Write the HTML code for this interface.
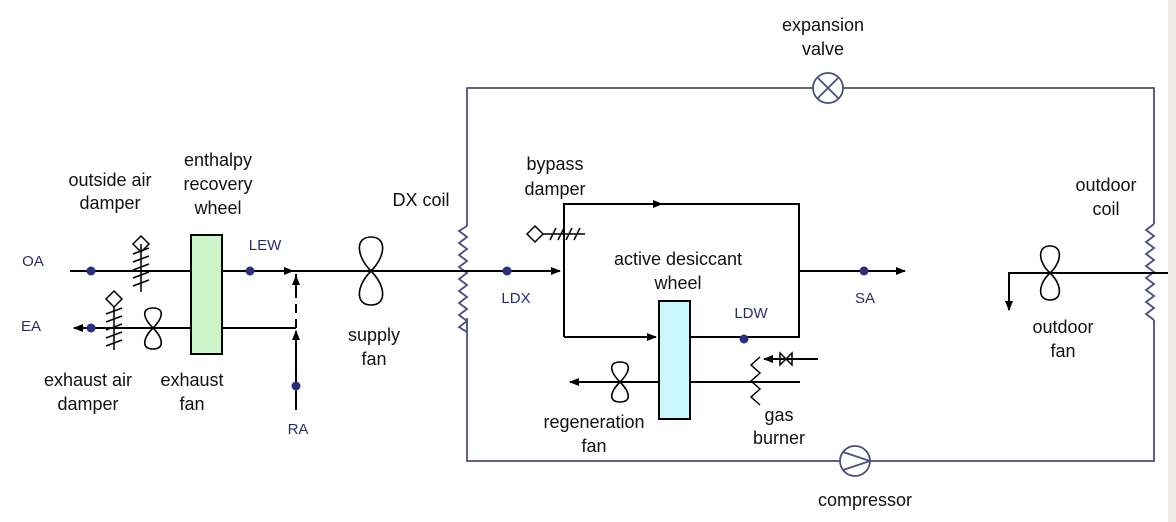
<!DOCTYPE html>
<html><head><meta charset="utf-8"><style>
html,body{margin:0;padding:0;background:#fff;}
svg{display:block;}
text{font-family:"Liberation Sans",Arial,sans-serif;font-size:18px;fill:#111;text-anchor:middle;}
.s{font-size:15px;fill:#2a2d6a;}
</style></head><body>
<svg width="1176" height="522" viewBox="0 0 1176 522" xmlns="http://www.w3.org/2000/svg">
<defs>
<marker id="ah" markerWidth="10" markerHeight="8" refX="9" refY="4" orient="auto" markerUnits="userSpaceOnUse"><path d="M0,0 L10,4 L0,8 z" fill="#000"/></marker>
</defs>
<rect x="1168" y="0" width="8" height="522" fill="#efece6"/>
<g fill="none" stroke="#4a4f7c" stroke-width="1.8">
<path d="M467,226 L467,88 L813,88 M843,88 L1154,88 L1154,224"/>
<path d="M1154,320 L1154,461 L870,461 M840,461 L467,461 L467,318"/>
<path d="M467,226 l-8,5 l8,6 l-8,6 l8,6 l-8,6 l8,6 l-8,6 l8,6 l-8,6 l8,6 l-8,6 l8,6 l-8,6 l8,6 l-8,6 l8,6 l-8,6 l8,5"/>
<path d="M1154,224 l-8,6 l8,6 l-8,6 l8,6 l-8,6 l8,6 l-8,6 l8,6 l-8,6 l8,6 l-8,6 l8,6 l-8,6 l8,6 l-8,6 l8,6"/>
<circle cx="828" cy="88" r="15"/>
<path d="M817,77 L839,99 M839,77 L817,99"/>
<circle cx="855" cy="461" r="15"/>
<path d="M843,452 L870,461 L843,470"/>
</g>
<g fill="none" stroke="#000" stroke-width="2">
<path d="M70,271 L293,271" marker-end="url(#ah)"/>
<path d="M293,271 L560,271" marker-end="url(#ah)"/>
<path d="M191,328 L74,328" marker-end="url(#ah)"/>
<path d="M222,328 L296,328"/>
<path d="M296,328 L296,274" stroke-dasharray="9,6"/>
<path d="M296,410 L296,331" marker-end="url(#ah)"/>
<path d="M296,290 L296,276" marker-end="url(#ah)"/>
<path d="M564,337 L564,204 L799,204 L799,337 L690,337"/>
<path d="M564,204 L662,204" marker-end="url(#ah)"/>
<path d="M564,337 L656,337" marker-end="url(#ah)"/>
<path d="M799,271 L905,271" marker-end="url(#ah)"/>
<path d="M659,382 L570,382" marker-end="url(#ah)"/>
<path d="M690,382 L800,382"/>
<path d="M818,359 L764,359" marker-end="url(#ah)"/>
<path d="M780,353 L792,365 L792,353 L780,365 Z" stroke-width="1.5"/>
<path d="M760,357 l-9,8 l9,8 l-9,8 l9,8 l-9,8 l9,8" stroke-width="1.5"/>
<path d="M1168,273 L1009,273 L1009,310" marker-end="url(#ah)"/>
<path d="M141,244 L141,292 M133,254 L149,248 M133,262 L149,256 M133,270 L149,264 M133,278 L149,272 M133,286 L149,280" stroke-width="1.5"/>
<path d="M141,236 L149,244 L141,252 L133,244 Z" stroke-width="1.5"/>
<path d="M114,307 L114,350 M106,314 L122,308 M106,322 L122,316 M106,330 L122,324 M106,338 L122,332 M106,346 L122,340" stroke-width="1.5"/>
<path d="M114,291 L122,299 L114,307 L106,299 Z" stroke-width="1.5"/>
<path d="M543,234 L585,234 M550,240 L556,228 M558,240 L564,228 M566,240 L572,228 M574,240 L580,228" stroke-width="1.5"/>
<path d="M535,226 L543,234 L535,242 L527,234 Z" stroke-width="1.5"/>
</g>
<g fill="none" stroke="#000" stroke-width="1.6">
<path d="M153,328 C143,318 141,308 153,308 C165,308 163,318 153,328 C143,338 141,349 153,349 C165,349 163,338 153,328 Z"/>
<path d="M371,271 C356,256 355,237 371,237 C387,237 386,256 371,271 C356,286 355,305 371,305 C387,305 386,286 371,271 Z"/>
<path d="M620,382 C610,372 608,362 620,362 C632,362 630,372 620,382 C610,392 608,402 620,402 C632,402 630,392 620,382 Z"/>
<path d="M1050,273 C1038,262 1037,246 1050,246 C1063,246 1062,262 1050,273 C1038,284 1037,300 1050,300 C1063,300 1062,284 1050,273 Z"/>
</g>
<rect x="191" y="235" width="31" height="119" fill="#ccf5cc" stroke="#000" stroke-width="2"/>
<rect x="659" y="301" width="31" height="118" fill="#ccf7fa" stroke="#000" stroke-width="2"/>
<g fill="#2c2f80">
<circle cx="91" cy="271" r="4.5"/><circle cx="250" cy="271" r="4.5"/>
<circle cx="507" cy="271" r="4.5"/><circle cx="864" cy="271" r="4.5"/>
<circle cx="91" cy="328" r="4.5"/><circle cx="296" cy="386" r="4.5"/>
<circle cx="744" cy="339" r="4.5"/>
</g>
<text x="823" y="31">expansion</text><text x="823" y="55">valve</text>
<text x="110" y="186">outside air</text><text x="110" y="209">damper</text>
<text x="218" y="166">enthalpy</text><text x="218" y="190">recovery</text><text x="218" y="214">wheel</text>
<text x="421" y="206">DX coil</text>
<text x="555" y="170">bypass</text><text x="555" y="195">damper</text>
<text x="678" y="265">active desiccant</text><text x="678" y="289">wheel</text>
<text x="1106" y="191">outdoor</text><text x="1106" y="215">coil</text>
<text x="374" y="341">supply</text><text x="374" y="365">fan</text>
<text x="88" y="386">exhaust air</text><text x="88" y="410">damper</text>
<text x="192" y="386">exhaust</text><text x="192" y="410">fan</text>
<text x="594" y="428">regeneration</text><text x="594" y="452">fan</text>
<text x="779" y="421">gas</text><text x="779" y="444">burner</text>
<text x="1063" y="333">outdoor</text><text x="1063" y="357">fan</text>
<text x="865" y="506">compressor</text>
<text class="s" x="33" y="266">OA</text>
<text class="s" x="31" y="331">EA</text>
<text class="s" x="265" y="250">LEW</text>
<text class="s" x="516" y="303">LDX</text>
<text class="s" x="751" y="318">LDW</text>
<text class="s" x="865" y="303">SA</text>
<text class="s" x="298" y="434">RA</text>
</svg>
</body></html>
